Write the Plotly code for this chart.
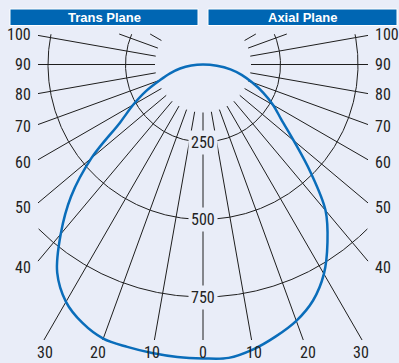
import numpy as np
import plotly.graph_objects as go

# ---------------- data ----------------
trans_angles = [0, 5, 10, 15, 20, 25, 30, 35, 40, 45, 50, 55, 60, 65, 70, 75, 80, 85, 90]
trans_cd = [948, 947, 945, 943, 941, 920, 884, 820, 714, 602, 470, 327, 260, 203, 148, 110, 75, 38, 0]
axial_angles = [0, 5, 10, 15, 20, 25, 30, 35, 40, 45, 50, 55, 60, 65, 70, 75, 80, 85, 90]
axial_cd = [948, 950, 933, 908, 880, 840, 780, 700, 615, 490, 382, 308, 261, 214, 168, 129, 90, 45, 0]
grid_angles = [0, 10, 20, 30, 40, 50, 60, 70, 80, 90, 100, 110, 120]
label_angles = [0, 10, 20, 30, 40, 50, 60, 70, 80, 90, 100]
ring_values = [250, 500, 750]
plane_titles = ["Trans Plane", "Axial Plane"]

# ---------------- geometry / style ----------------
W, H = 399, 363
PX = 0.31            # pixels per cd
CX, CY = 203, 64.5   # pixel position of the polar origin
FX = 165 / PX        # half-width of grid frame (cd)
FT = 30.5 / PX       # frame top above origin (cd)
FB = 275.5 / PX      # frame bottom below origin (cd)
RIN = 48 / PX        # inner radius where radial lines start
LBL_SIDE = 170 / PX
LBL_BOT = 287.5 / PX
LBL_BOT_MAX = 158 / PX

BG = "#E9EDF8"
BOX = "#0066B3"
CURVE = "#0A6DBA"
GRID = "#1E1E1E"
NARROW = "Liberation Sans Narrow, Arial Narrow, Roboto Condensed, Liberation Sans, Arial"

fig = go.Figure()

# radial lines
rx, ry = [], []
for a in grid_angles:
    sides = [1] if a == 0 else [-1, 1]
    for s in sides:
        t = np.radians(a)
        ux, uy = s * np.sin(t), -np.cos(t)
        lims = []
        if abs(ux) > 1e-9:
            lims.append(FX / abs(ux))
        if uy > 1e-9:
            lims.append(FT / uy)
        if uy < -1e-9:
            lims.append(FB / -uy)
        tend = min(lims)
        if tend > RIN:
            rx += [RIN * ux, tend * ux, None]
            ry += [RIN * uy, tend * uy, None]
fig.add_trace(go.Scatter(x=rx, y=ry, mode="lines", line=dict(color=GRID, width=1),
                         hoverinfo="skip", showlegend=False))

# rings
phi = np.radians(np.arange(-180, 180.01, 0.25))
for R in ring_values:
    x = R * np.sin(phi)
    y = -R * np.cos(phi)
    keep = (np.abs(x) <= FX) & (y <= FT) & (y >= -FB)
    fig.add_trace(go.Scatter(x=x[keep], y=y[keep], mode="lines",
                             line=dict(color=GRID, width=1),
                             hoverinfo="skip", showlegend=False))

# ring labels (mask the grid behind them)
for R in ring_values:
    fig.add_annotation(x=0, y=-R, xref="x", yref="y", text=str(R), showarrow=False,
                       font=dict(family=NARROW, size=16, color="#222"),
                       bgcolor=BG, borderpad=2, xanchor="center", yanchor="middle")

# intensity curve
tA = np.radians(trans_angles)[::-1]
tC = np.array(trans_cd)[::-1]
aA = np.radians(axial_angles)[1:]
aC = np.array(axial_cd)[1:]
cx = np.concatenate([-tC * np.sin(tA), aC * np.sin(aA)])
cy = np.concatenate([-tC * np.cos(tA), -aC * np.cos(aA)])
fig.add_trace(go.Scatter(x=cx, y=cy, mode="lines", line=dict(color=CURVE, width=2.5, shape="spline", smoothing=1),
                         hoverinfo="skip", showlegend=False))

# angle labels
for a in label_angles:
    sides = [1] if a == 0 else [-1, 1]
    for s in sides:
        t = np.radians(a)
        ux, uy = s * np.sin(t), -np.cos(t)
        side_hit = abs(ux) > 1e-9 and (uy >= 0 or FX / abs(ux) < FB / -uy)
        if side_hit:
            lx = s * LBL_SIDE
            ly = lx / ux * uy
            xa = "right" if s < 0 else "left"
        else:
            ly = -LBL_BOT
            lx = ly / uy * ux
            lx = max(-LBL_BOT_MAX, min(LBL_BOT_MAX, lx))
            xa = "center"
        fig.add_annotation(x=lx, y=ly, xref="x", yref="y", text=str(a), showarrow=False,
                           font=dict(family=NARROW, size=16, color="#222"),
                           xanchor=xa, yanchor="middle")

# header boxes
boxes = [(10, 198), (208, 397)]
for (x0, x1), title in zip(boxes, plane_titles):
    fig.add_shape(type="rect", xref="paper", yref="paper",
                  x0=x0 / W, x1=x1 / W, y0=1 - 25.5 / H, y1=1 - 9 / H,
                  fillcolor=BOX, line=dict(color="white", width=1), layer="above")
    fig.add_annotation(x=(x0 + x1) / 2 / W, y=1 - 17.3 / H, xref="paper", yref="paper",
                       text="<b>%s</b>" % title, showarrow=False,
                       font=dict(family="Liberation Sans, Arial", size=13, color="white"),
                       xanchor="center", yanchor="middle")

fig.update_layout(
    width=W, height=H, margin=dict(l=0, r=0, t=0, b=0),
    paper_bgcolor=BG, plot_bgcolor=BG,
    xaxis=dict(range=[-CX / PX, (W - CX) / PX], visible=False, fixedrange=True),
    yaxis=dict(range=[(CY - H) / PX, CY / PX], visible=False, fixedrange=True),
    showlegend=False,
)

fig.write_html("out.html", config={"displayModeBar": False},
               post_script="document.body.style.margin='0';document.body.style.overflow='hidden';")
